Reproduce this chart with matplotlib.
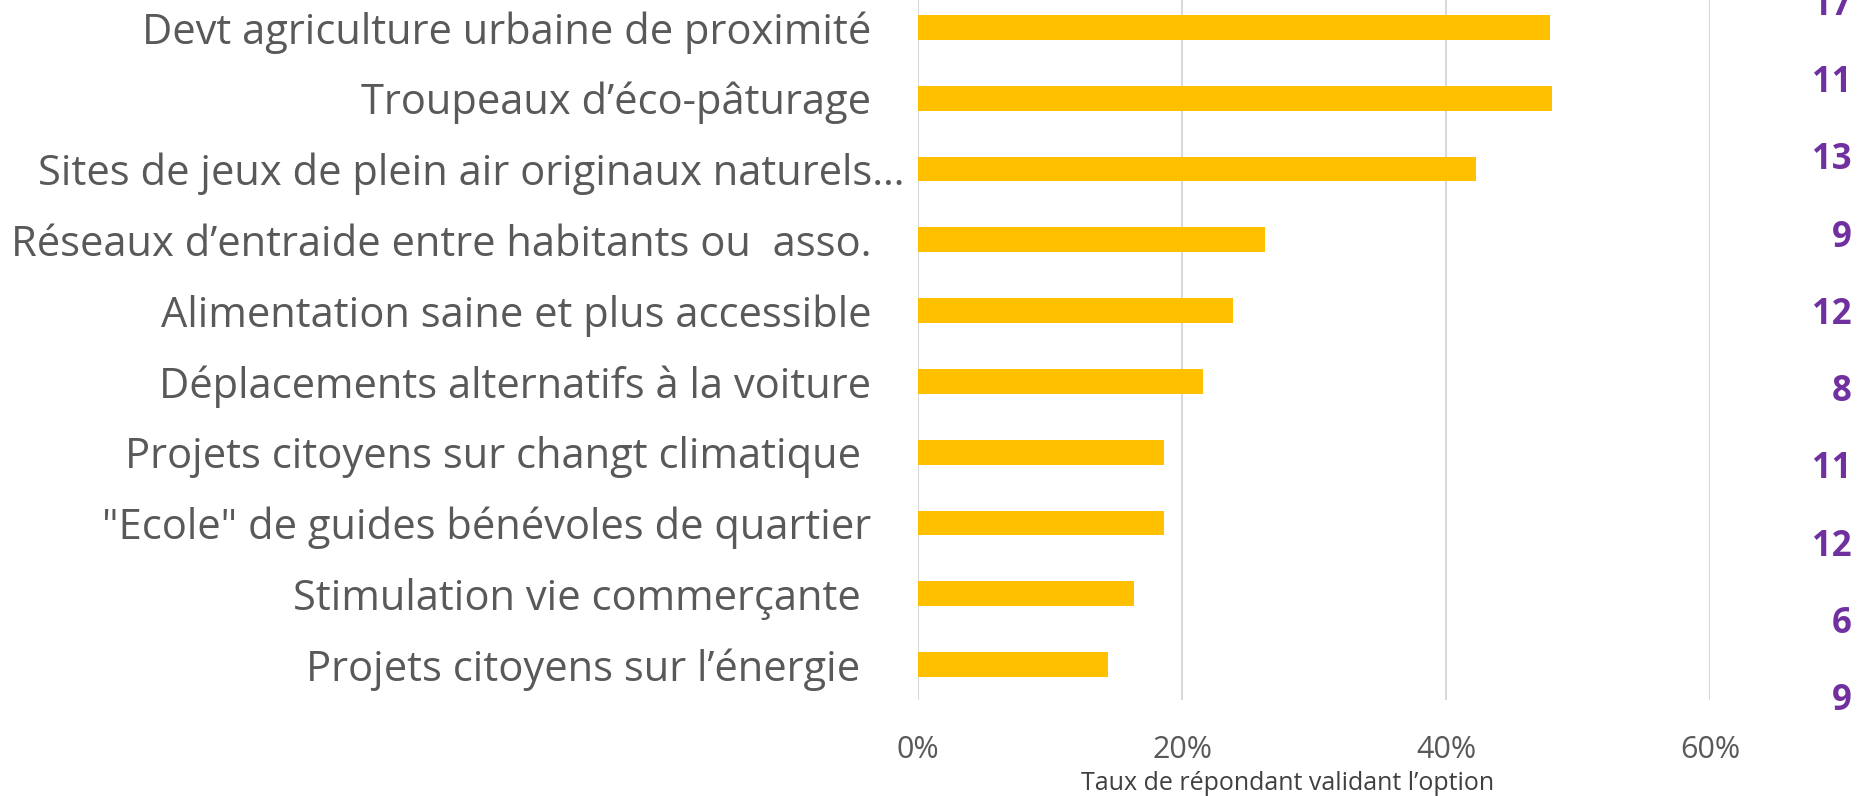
import matplotlib.pyplot as plt
from matplotlib.ticker import PercentFormatter

categories = [
    "Devt agriculture urbaine de proximité   ",
    "Troupeaux d\u2019éco-pâturage   ",
    "Sites de jeux de plein air originaux naturels\u2026",
    "Réseaux d\u2019entraide entre habitants ou  asso.   ",
    "Alimentation saine et plus accessible   ",
    "Déplacements alternatifs à la voiture   ",
    "Projets citoyens sur changt climatique    ",
    "\"Ecole\" de guides bénévoles de quartier   ",
    "Stimulation vie commerçante    ",
    "Projets citoyens sur l\u2019énergie    ",
]
rates = [47.9, 48.0, 42.3, 26.3, 23.9, 21.6, 18.6, 18.6, 16.4, 14.4]
counts = [17, 11, 13, 9, 12, 8, 11, 12, 6, 9]
xticks = [0, 20, 40, 60]

plt.rcParams['font.family'] = ['Open Sans', 'DejaVu Sans']

W, H = 1872, 796
fig = plt.figure(figsize=(W / 100, H / 100), dpi=100)

# main bar chart (top slightly cut, as in the slide)
ax = fig.add_axes([918 / W, 96 / H, 792 / W, 708 / H])
y = range(len(categories))
ax.barh(y, rates, height=0.35, color='#FFC000', zorder=3)
ax.set_ylim(len(categories) - 0.5, -0.5)
ax.set_xlim(0, 60)
ax.set_xticks(xticks)
ax.xaxis.set_major_formatter(PercentFormatter(decimals=0))
ax.set_yticks(list(y))
ax.set_yticklabels(categories, fontsize=30, color='#595959')
ax.tick_params(axis='y', length=0, pad=10)
ax.tick_params(axis='x', length=0, pad=25, labelsize=22, labelcolor='#595959')
ax.grid(axis='x', color='#D9D9D9', linewidth=1.5, zorder=0)
for s in ax.spines.values():
    s.set_visible(False)
ax.set_xlabel('Taux de répondant validant l\u2019option', fontsize=18,
              color='#404040')
ax.xaxis.set_label_coords(0.466, -0.1)

# count column on the right
ax2 = fig.add_axes([1760 / W, 56 / H, 92 / W, 773 / H])
ax2.set_ylim(len(counts) - 0.5, -0.5)
ax2.set_xlim(0, 1)
ax2.axis('off')
for i, c in enumerate(counts):
    ax2.text(1, i, str(c), ha='right', va='center', fontsize=25,
             fontweight='bold', color='#7030A0')

fig.savefig('out.png', dpi=100)
